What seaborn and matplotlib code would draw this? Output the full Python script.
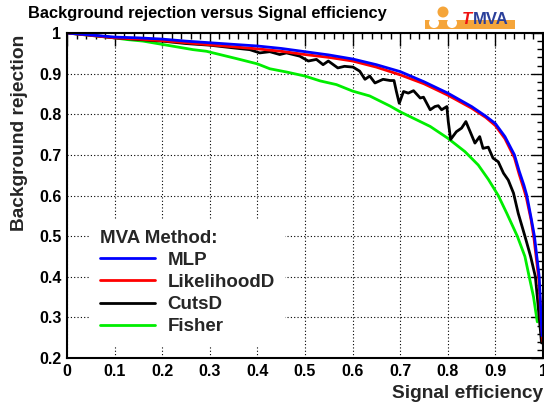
import numpy as np
import pandas as pd
import matplotlib
matplotlib.use("Agg")
import matplotlib.pyplot as plt
import seaborn as sns
from matplotlib.lines import Line2D
from matplotlib.patches import Rectangle, Circle
from matplotlib.ticker import MultipleLocator, FuncFormatter

# ROC curves: signal efficiency vs background rejection per MVA method
methods = ["MLP", "LikelihoodD", "CutsD", "Fisher"]
colors = {"MLP": "#0000ff", "LikelihoodD": "#ff0000", "CutsD": "#000000", "Fisher": "#00ee00"}

mlp_eff = [0.0, 0.05, 0.1, 0.15, 0.2, 0.25, 0.3, 0.35, 0.4, 0.45, 0.5, 0.55, 0.6, 0.65,
           0.7, 0.75, 0.8, 0.85, 0.88, 0.9, 0.92, 0.94, 0.95, 0.96, 0.966, 0.975, 0.982,
           0.992, 0.996, 0.998]
mlp_rej = [1.0, 0.995, 0.990, 0.988, 0.985, 0.980, 0.976, 0.972, 0.968, 0.962, 0.954, 0.946,
           0.936, 0.922, 0.905, 0.880, 0.852, 0.819, 0.795, 0.777, 0.745, 0.700, 0.660, 0.625,
           0.600, 0.545, 0.500, 0.400, 0.300, 0.255]

lik_eff = [0.0, 0.05, 0.1, 0.15, 0.2, 0.25, 0.3, 0.35, 0.4, 0.45, 0.5, 0.55, 0.6, 0.65,
           0.7, 0.75, 0.8, 0.85, 0.88, 0.9, 0.92, 0.94, 0.95, 0.96, 0.965, 0.975, 0.981,
           0.991, 0.996, 1.0]
lik_rej = [1.0, 0.994, 0.988, 0.985, 0.981, 0.976, 0.971, 0.966, 0.961, 0.955, 0.947, 0.940,
           0.931, 0.916, 0.897, 0.875, 0.847, 0.815, 0.792, 0.772, 0.740, 0.693, 0.652, 0.615,
           0.595, 0.540, 0.495, 0.395, 0.295, 0.240]

cuts_eff = [0.0, 0.05, 0.1, 0.15, 0.2, 0.25, 0.3, 0.33, 0.36, 0.384, 0.405, 0.426, 0.447,
            0.461, 0.489, 0.507, 0.524, 0.538, 0.549, 0.569, 0.583, 0.601, 0.615, 0.626,
            0.636, 0.647, 0.664, 0.679, 0.687, 0.692, 0.698, 0.707, 0.717, 0.728, 0.742,
            0.749, 0.763, 0.773, 0.780, 0.787, 0.798, 0.801, 0.806, 0.818, 0.829, 0.838,
            0.847, 0.857, 0.867, 0.874, 0.885, 0.895, 0.906, 0.917, 0.927, 0.938, 0.948,
            0.962, 0.974, 0.984, 0.990, 0.992, 0.997]
cuts_rej = [1.0, 0.995, 0.988, 0.984, 0.980, 0.974, 0.970, 0.966, 0.962, 0.959, 0.951, 0.954,
            0.947, 0.951, 0.943, 0.931, 0.935, 0.922, 0.931, 0.914, 0.918, 0.916, 0.906, 0.886,
            0.894, 0.877, 0.886, 0.883, 0.883, 0.856, 0.827, 0.856, 0.852, 0.858, 0.840,
            0.842, 0.811, 0.819, 0.821, 0.811, 0.819, 0.782, 0.738, 0.757, 0.766, 0.782,
            0.757, 0.729, 0.745, 0.716, 0.719, 0.692, 0.683, 0.655, 0.638, 0.606, 0.556,
            0.500, 0.450, 0.400, 0.326, 0.300, 0.237]

fis_eff = [0.0, 0.05, 0.1, 0.125, 0.16, 0.2, 0.235, 0.265, 0.293, 0.321, 0.356, 0.4, 0.426,
           0.461, 0.5, 0.532, 0.566, 0.6, 0.636, 0.679, 0.7, 0.763, 0.8, 0.836, 0.864, 0.885,
           0.906, 0.924, 0.946, 0.962, 0.971, 0.980, 0.988]
fis_rej = [1.0, 0.994, 0.988, 0.984, 0.980, 0.972, 0.965, 0.959, 0.955, 0.947, 0.937, 0.924,
           0.912, 0.904, 0.894, 0.882, 0.873, 0.857, 0.845, 0.820, 0.806, 0.770, 0.741, 0.708,
           0.675, 0.640, 0.600, 0.556, 0.500, 0.450, 0.400, 0.351, 0.289]

curves = {"MLP": (mlp_eff, mlp_rej), "LikelihoodD": (lik_eff, lik_rej),
          "CutsD": (cuts_eff, cuts_rej), "Fisher": (fis_eff, fis_rej)}

df = pd.concat([pd.DataFrame({"eff": e, "rej": r, "method": m})
                for m, (e, r) in curves.items()], ignore_index=True)

sns.set_theme(style="white")
plt.rcParams["font.family"] = ["Liberation Sans", "DejaVu Sans"]
plt.rcParams["font.weight"] = "bold"

W, H = 544, 409
fig = plt.figure(figsize=(W / 100, H / 100), dpi=100)
fig.patch.set_facecolor("white")
ax = fig.add_axes([67 / W, 1 - 358 / H, 476 / W, 325 / H])

draw_order = ["Fisher", "CutsD", "LikelihoodD", "MLP"]
sns.lineplot(data=df, x="eff", y="rej", hue="method", hue_order=draw_order,
             palette=colors, estimator=None, sort=False, linewidth=2.0,
             ax=ax, legend=False)

ax.set_xlim(0, 1)
ax.set_ylim(0.2, 1.0)
ax.xaxis.set_major_locator(MultipleLocator(0.1))
ax.xaxis.set_minor_locator(MultipleLocator(0.02))
ax.yaxis.set_major_locator(MultipleLocator(0.1))
ax.yaxis.set_minor_locator(MultipleLocator(0.02))
fmt = FuncFormatter(lambda v, p: f"{v:g}")
ax.xaxis.set_major_formatter(fmt)
ax.yaxis.set_major_formatter(fmt)
ax.tick_params(which="both", direction="in", top=True, right=True,
               colors="black", width=1.0, labelsize=11.5)
ax.tick_params(which="major", length=9, pad=4)
ax.tick_params(which="minor", length=4.5)
for lab in ax.get_xticklabels() + ax.get_yticklabels():
    lab.set_fontweight("bold")

ax.grid(True, which="major", color="black", linestyle=(0, (1, 2)), linewidth=0.8)
for s in ax.spines.values():
    s.set_color("black")
    s.set_linewidth(1.5)

ax.set_xlabel("Signal efficiency", loc="right", fontsize=13.8, fontweight="bold", labelpad=5)
ax.set_ylabel("Background rejection", loc="top", fontsize=13.8, fontweight="bold")
ax.yaxis.set_label_coords(-0.082, 0.995)

# Legend with an opaque, borderless white box that hides the grid behind it
handles = [Line2D([], [], color=colors[m], linewidth=2.0) for m in methods]
leg = ax.legend(handles, methods, title="MVA Method:", loc="upper left",
                bbox_to_anchor=(0.048, 0.427), frameon=True, fancybox=False,
                facecolor="white", edgecolor="none", framealpha=1.0,
                fontsize=13.5,
                title_fontproperties={"weight": "bold", "size": 13.5},
                handlelength=2.9, handletextpad=0.68, labelspacing=0.27,
                borderaxespad=0, borderpad=0.55)
leg._legend_box.align = "left"

fig.text(28 / W, 1 - 18 / H, "Background rejection versus Signal efficiency",
         ha="left", va="baseline", fontsize=11.8, fontweight="bold", color="black")

# TMVA logo in a pixel-unit inset
lax = fig.add_axes([420 / W, 1 - 32 / H, 124 / W, 32 / H])
lax.set_xlim(0, 124)
lax.set_ylim(32, 0)
lax.axis("off")
orange = "#f5a53a"
lax.add_patch(Rectangle((5, 20), 90, 8.5, color=orange, lw=0))
lax.add_patch(Circle((23, 12), 5.5, color=orange, lw=0))
lax.add_patch(Circle((14, 23), 5, color="white", lw=0))
lax.add_patch(Circle((32, 23), 5, color="white", lw=0))
lax.text(41.5, 24, "T", color="#ee1111", fontsize=12, fontweight="bold",
         fontstyle="italic", ha="left", va="baseline")
lax.text(53, 24, "MVA", color="#2a3f9a", fontsize=12, fontweight="bold",
         ha="left", va="baseline")

fig.savefig("out.png", dpi=100)
